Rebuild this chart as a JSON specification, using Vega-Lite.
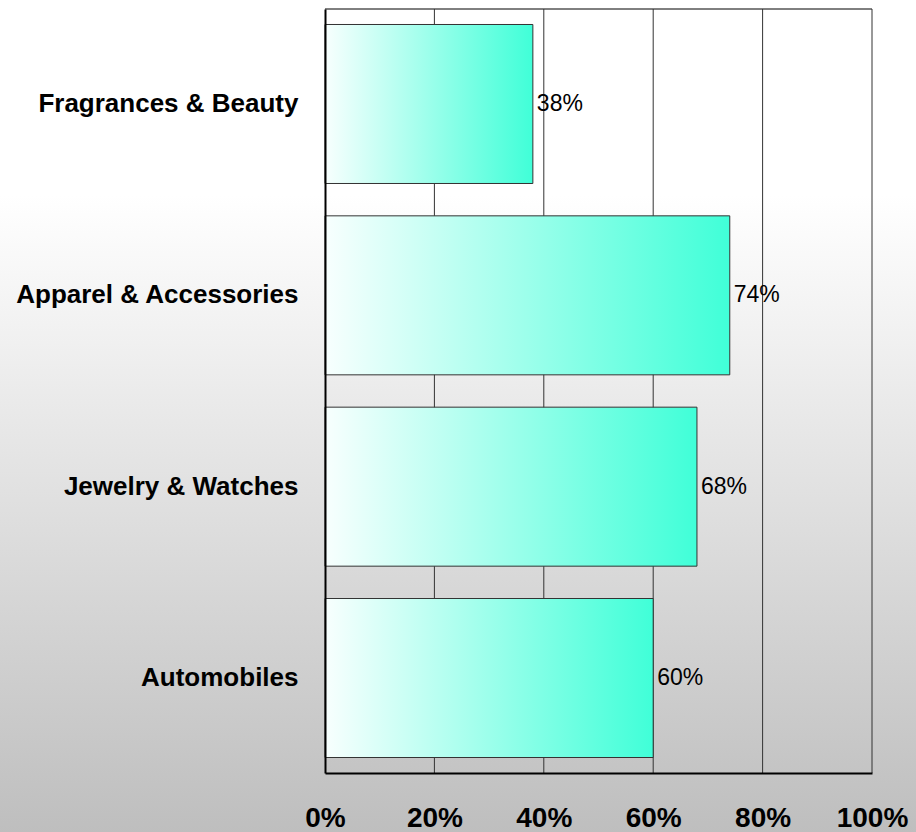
{
  "$schema": "https://vega.github.io/schema/vega-lite/v6.json",
  "width": 547,
  "height": 764,
  "autosize": {"type": "none"},
  "padding": {"left": 325, "top": 9, "right": 44, "bottom": 59},
  "background": "#ffffff",
  "config": {"view": {"stroke": null}},
  "resolve": {"scale": {"y": "independent"}},
  "layer": [
    {
      "data": {"values": [{"panel": "background"}]},
      "layer": [
        {
          "mark": {
            "type": "rect",
            "fill": {
              "gradient": "linear", "x1": 0, "y1": 0, "x2": 0, "y2": 1,
              "stops": [
                {"offset": 0, "color": "#ffffff"},
                {"offset": 0.24, "color": "#ffffff"},
                {"offset": 1, "color": "#bebebe"}
              ]
            }
          },
          "encoding": {
            "x": {
              "datum": -0.7,
              "type": "quantitative",
              "scale": {"domain": [0, 1], "nice": false},
              "axis": {
                "title": null,
                "zindex": 1,
                "values": [0, 0.2, 0.4, 0.6, 0.8, 1],
                "format": ".0%",
                "domainColor": "#000000",
                "domainWidth": 2,
                "ticks": false,
                "grid": false,
                "labelFont": "Liberation Sans",
                "labelFontWeight": "bold",
                "labelFontSize": 28,
                "labelColor": "#000000",
                "labelPadding": 31,
                "labelFlush": false,
                "labelOverlap": false,
                "labelBound": false
              }
            },
            "x2": {"datum": 1.2},
            "y": {"datum": -0.08, "type": "quantitative", "scale": {"domain": [0, 1], "nice": false}, "axis": null},
            "y2": {"datum": 1.02}
          }
        },
        {
          "mark": {"type": "rule", "color": "#000000", "strokeWidth": 1},
          "encoding": {
            "x": {"datum": 0, "type": "quantitative"},
            "x2": {"datum": 1},
            "y": {"datum": 1, "type": "quantitative"}
          }
        }
      ]
    },
    {
      "data": {"values": [{"tick": 0.2}, {"tick": 0.4}, {"tick": 0.6}, {"tick": 0.8}, {"tick": 1.0}]},
      "mark": {"type": "rule", "color": "#333333", "strokeWidth": 1},
      "encoding": {
        "x": {"field": "tick", "type": "quantitative"}
      }
    },
    {
      "data": {
        "values": [
          {"category": "Fragrances & Beauty", "value": 0.38},
          {"category": "Apparel & Accessories", "value": 0.74},
          {"category": "Jewelry & Watches", "value": 0.68},
          {"category": "Automobiles", "value": 0.60}
        ]
      },
      "encoding": {
        "y": {
          "field": "category",
          "type": "nominal",
          "sort": null,
          "scale": {"paddingInner": 0.169, "paddingOuter": 0.081},
          "axis": {
            "orient": "left",
            "title": null,
            "zindex": 1,
            "domainColor": "#000000",
            "domainWidth": 2,
            "ticks": false,
            "grid": false,
            "labelFont": "Liberation Sans",
            "labelFontWeight": "bold",
            "labelFontSize": 26,
            "labelColor": "#000000",
            "labelPadding": 27,
            "labelLimit": 400
          }
        }
      },
      "layer": [
        {
          "mark": {
            "type": "bar",
            "fill": {
              "gradient": "linear", "x1": 0, "y1": 0, "x2": 1, "y2": 0,
              "stops": [
                {"offset": 0, "color": "#f8fffe"},
                {"offset": 1, "color": "#40ffd8"}
              ]
            },
            "stroke": "#333333",
            "strokeWidth": 1
          },
          "encoding": {
            "x": {"field": "value", "type": "quantitative"}
          }
        },
        {
          "mark": {
            "type": "text",
            "align": "left",
            "baseline": "middle",
            "dx": 4,
            "font": "Liberation Sans",
            "fontSize": 23,
            "color": "#000000"
          },
          "encoding": {
            "x": {"field": "value", "type": "quantitative"},
            "text": {"field": "value", "type": "quantitative", "format": ".0%"}
          }
        }
      ]
    }
  ]
}
